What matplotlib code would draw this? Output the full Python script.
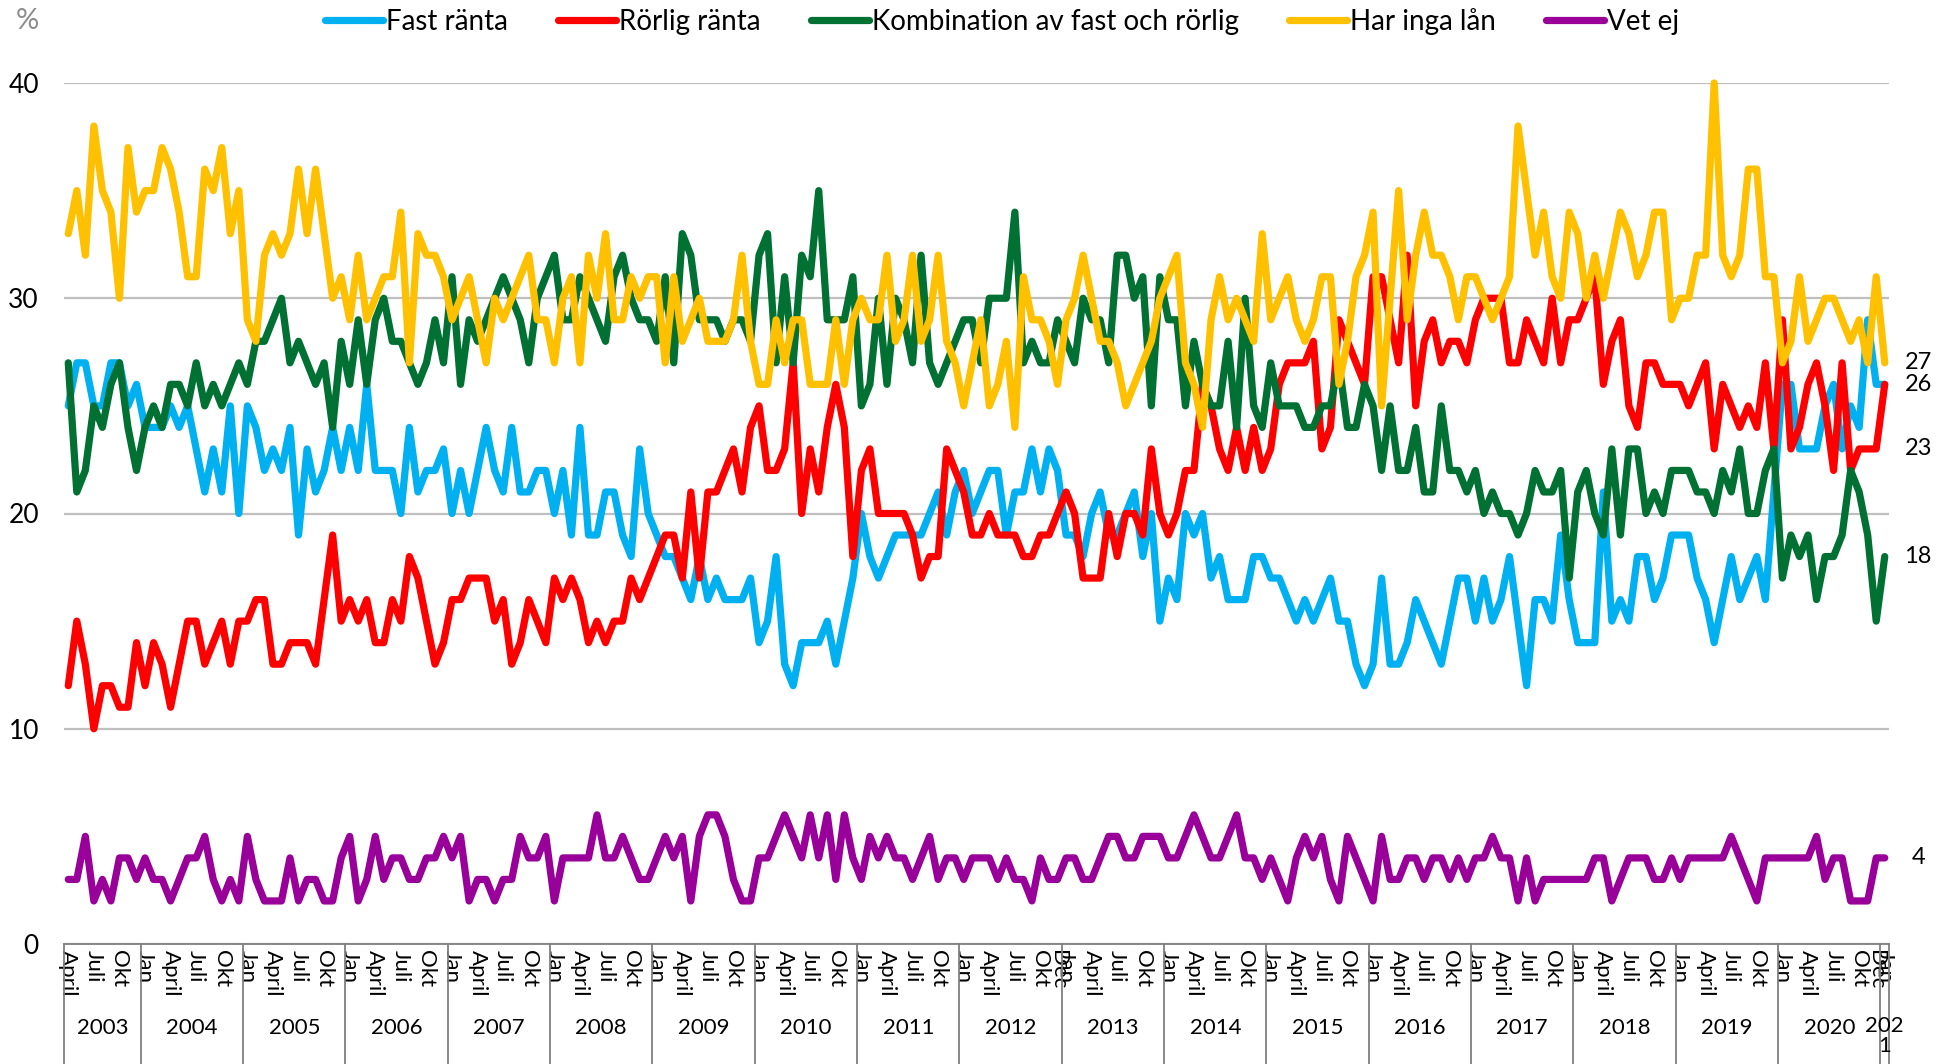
import numpy as np
import matplotlib.pyplot as plt
from matplotlib.transforms import blended_transform_factory

plt.rcParams['font.family'] = ['Lato', 'DejaVu Sans']

# monthly values (%), April 2003 - January 2021
fast = [25, 27, 27, 25, 25, 27, 27, 25, 26, 24, 24, 24, 25, 24, 25, 23, 21, 23, 21, 25, 20, 25, 24, 22, 23, 22, 24, 19, 23, 21, 22, 24,
        22, 24, 22, 26, 22, 22, 22, 20, 24, 21, 22, 22, 23, 20, 22, 20, 22, 24, 22, 21, 24, 21, 21, 22, 22, 20, 22, 19, 24, 19, 19,
        21, 21, 19, 18, 23, 20, 19, 18, 18, 17, 16, 18, 16, 17, 16, 16, 16, 17, 14, 15, 18, 13, 12, 14, 14, 14, 15, 13, 15, 17, 20,
        18, 17, 18, 19, 19, 19, 19, 20, 21, 19, 21, 22, 20, 21, 22, 22, 19, 21, 21, 23, 21, 23, 22, 19, 19, 18, 20, 21, 19, 19, 20,
        21, 18, 20, 15, 17, 16, 20, 19, 20, 17, 18, 16, 16, 16, 18, 18, 17, 17, 16, 15, 16, 15, 16, 17, 15, 15, 13, 12, 13, 17, 13,
        13, 14, 16, 15, 14, 13, 15, 17, 17, 15, 17, 15, 16, 18, 15, 12, 16, 16, 15, 19, 16, 14, 14, 14, 21, 15, 16, 15, 18,
        18, 16, 17, 19, 19, 19, 17, 16, 14, 16, 18, 16, 17, 18, 16, 21, 26, 26, 23, 23, 23, 25, 26, 23, 25, 24, 29, 26, 26]
rorlig = [12, 15, 13, 10, 12, 12, 11, 11, 14, 12, 14, 13, 11, 13, 15, 15, 13, 14, 15, 13, 15, 15, 16, 16, 13, 13, 14, 14, 14, 13, 16, 19,
          15, 16, 15, 16, 14, 14, 16, 15, 18, 17, 15, 13, 14, 16, 16, 17, 17, 17, 15, 16, 13, 14, 16, 15, 14, 17, 16, 17, 16, 14, 15,
          14, 15, 15, 17, 16, 17, 18, 19, 19, 17, 21, 17, 21, 21, 22, 23, 21, 24, 25, 22, 22, 23, 27, 20, 23, 21, 24, 26, 24, 18, 22,
          23, 20, 20, 20, 20, 19, 17, 18, 18, 23, 22, 21, 19, 19, 20, 19, 19, 19, 18, 18, 19, 19, 20, 21, 20, 17, 17, 17, 20, 18, 20,
          20, 19, 23, 20, 19, 20, 22, 22, 26, 25, 23, 22, 24, 22, 24, 22, 23, 26, 27, 27, 27, 28, 23, 24, 29, 28, 27, 26, 31, 31, 29,
          27, 32, 25, 28, 29, 27, 28, 28, 27, 29, 30, 30, 30, 27, 27, 29, 28, 27, 30, 27, 29, 29, 30, 31, 26, 28, 29, 25, 24,
          27, 27, 26, 26, 26, 25, 26, 27, 23, 26, 25, 24, 25, 24, 27, 23, 29, 23, 24, 26, 27, 25, 22, 27, 22, 23, 23, 23, 26]
kombination = [27, 21, 22, 25, 24, 26, 27, 24, 22, 24, 25, 24, 26, 26, 25, 27, 25, 26, 25, 26, 27, 26, 28, 28, 29, 30, 27, 28, 27, 26, 27, 24,
               28, 26, 29, 26, 29, 30, 28, 28, 27, 26, 27, 29, 27, 31, 26, 29, 28, 29, 30, 31, 30, 29, 27, 30, 31, 32, 29, 29, 31, 30, 29,
               28, 31, 32, 30, 29, 29, 28, 31, 27, 33, 32, 29, 29, 29, 28, 29, 29, 28, 32, 33, 27, 31, 27, 32, 31, 35, 29, 29, 29, 31, 25,
               26, 30, 26, 30, 29, 27, 32, 27, 26, 27, 28, 29, 29, 27, 30, 30, 30, 34, 27, 28, 27, 27, 29, 28, 27, 30, 29, 29, 27, 32, 32,
               30, 31, 25, 31, 29, 29, 25, 28, 26, 25, 25, 28, 24, 30, 25, 24, 27, 25, 25, 25, 24, 24, 25, 25, 27, 24, 24, 26, 25, 22, 25,
               22, 22, 24, 21, 21, 25, 22, 22, 21, 22, 20, 21, 20, 20, 19, 20, 22, 21, 21, 22, 17, 21, 22, 20, 19, 23, 19, 23, 23,
               20, 21, 20, 22, 22, 22, 21, 21, 20, 22, 21, 23, 20, 20, 22, 23, 17, 19, 18, 19, 16, 18, 18, 19, 22, 21, 19, 15, 18]
inga_lan = [33, 35, 32, 38, 35, 34, 30, 37, 34, 35, 35, 37, 36, 34, 31, 31, 36, 35, 37, 33, 35, 29, 28, 32, 33, 32, 33, 36, 33, 36, 33, 30,
            31, 29, 32, 29, 30, 31, 31, 34, 27, 33, 32, 32, 31, 29, 30, 31, 29, 27, 30, 29, 30, 31, 32, 29, 29, 27, 30, 31, 27, 32, 30,
            33, 29, 29, 31, 30, 31, 31, 27, 31, 28, 29, 30, 28, 28, 28, 29, 32, 28, 26, 26, 29, 27, 29, 29, 26, 26, 26, 29, 26, 29, 30,
            29, 29, 32, 28, 29, 32, 28, 29, 32, 28, 27, 25, 27, 29, 25, 26, 28, 24, 31, 29, 29, 28, 26, 29, 30, 32, 30, 28, 28, 27, 25,
            26, 27, 28, 30, 31, 32, 27, 26, 24, 29, 31, 29, 30, 29, 28, 33, 29, 30, 31, 29, 28, 29, 31, 31, 26, 28, 31, 32, 34, 25, 30,
            35, 29, 32, 34, 32, 32, 31, 29, 31, 31, 30, 29, 30, 31, 38, 35, 32, 34, 31, 30, 34, 33, 30, 32, 30, 32, 34, 33, 31,
            32, 34, 34, 29, 30, 30, 32, 32, 40, 32, 31, 32, 36, 36, 31, 31, 27, 28, 31, 28, 29, 30, 30, 29, 28, 29, 27, 31, 27]
vet_ej = [3, 3, 5, 2, 3, 2, 4, 4, 3, 4, 3, 3, 2, 3, 4, 4, 5, 3, 2, 3, 2, 5, 3, 2, 2, 2, 4, 2, 3, 3, 2, 2,
          4, 5, 2, 3, 5, 3, 4, 4, 3, 3, 4, 4, 5, 4, 5, 2, 3, 3, 2, 3, 3, 5, 4, 4, 5, 2, 4, 4, 4, 4, 6,
          4, 4, 5, 4, 3, 3, 4, 5, 4, 5, 2, 5, 6, 6, 5, 3, 2, 2, 4, 4, 5, 6, 5, 4, 6, 4, 6, 3, 6, 4, 3,
          5, 4, 5, 4, 4, 3, 4, 5, 3, 4, 4, 3, 4, 4, 4, 3, 4, 3, 3, 2, 4, 3, 3, 4, 4, 3, 3, 4, 5, 5, 4,
          4, 5, 5, 5, 4, 4, 5, 6, 5, 4, 4, 5, 6, 4, 4, 3, 4, 3, 2, 4, 5, 4, 5, 3, 2, 5, 4, 3, 2, 5, 3,
          3, 4, 4, 3, 4, 4, 3, 4, 3, 4, 4, 5, 4, 4, 2, 4, 2, 3, 3, 3, 3, 3, 3, 4, 4, 2, 3, 4, 4,
          4, 3, 3, 4, 3, 4, 4, 4, 4, 4, 5, 4, 3, 2, 4, 4, 4, 4, 4, 4, 5, 3, 4, 4, 2, 2, 2, 4, 4]

names = ['Fast ränta', 'Rörlig ränta', 'Kombination av fast och rörlig', 'Har inga lån', 'Vet ej']
colors = ['#00B0F0', '#FF0000', '#007033', '#FFC000', '#990099']
end_labels = [27, 26, 23, 18, 4]

start_year, start_month = 2003, 4
month_names = {1: 'Jan', 4: 'April', 7: 'Juli', 10: 'Okt'}
extra_ticks = {(2012, 12): 'Dec', (2020, 12): 'Dec'}

n = len(fast)
x = np.arange(n)
years = [start_year + (start_month - 1 + i) // 12 for i in range(n)]
months = [(start_month - 1 + i) % 12 + 1 for i in range(n)]

fig = plt.figure(figsize=(19.4, 10.64), dpi=100)
ax = fig.add_axes([64 / 1940, 1 - 944 / 1064, 1825 / 1940, 861 / 1064])

for vals, name, c in zip([fast, rorlig, kombination, inga_lan, vet_ej], names, colors):
    ax.plot(x, vals, color=c, lw=5.2, label=name, solid_joinstyle='round',
            solid_capstyle='round', clip_on=False)

ax.set_xlim(-0.5, n - 0.5)
ax.set_ylim(0, 40)
ax.set_yticks([0, 10, 20, 30, 40])
ax.grid(axis='y', color='#BFBFBF', lw=1.6)
ax.set_axisbelow(True)
for s in ['top', 'right', 'left']:
    ax.spines[s].set_visible(False)
ax.spines['bottom'].set_color('#7F7F7F')
ax.spines['bottom'].set_linewidth(1.3)
ax.tick_params(axis='y', length=0, pad=18, labelsize=19)

# month labels under the axis
tick_pos, tick_lab = [], []
for i in range(n):
    lab = month_names.get(months[i]) or extra_ticks.get((years[i], months[i]))
    if lab:
        tick_pos.append(i)
        tick_lab.append(lab)
ax.set_xticks(tick_pos)
ax.set_xticklabels(tick_lab, rotation=-90, fontsize=16, va='top', ha='center')
ax.tick_params(axis='x', length=0, pad=4)

# year row with separators
trans = blended_transform_factory(ax.transData, ax.transAxes)
bounds = [-0.5] + [i - 0.5 for i in range(1, n) if years[i] != years[i - 1]] + [n - 0.5]
for b in bounds:
    ax.plot([b, b], [0, -0.16], color='#7F7F7F', lw=1.3, transform=trans, clip_on=False)
for y in sorted(set(years)):
    idx = [i for i in range(n) if years[i] == y]
    xc = (idx[0] + idx[-1]) / 2
    if len(idx) > 1:
        ax.text(xc, -0.097, str(y), transform=trans, ha='center', va='center', fontsize=16)
    else:
        # one-month year: the label wraps like in the original
        ax.text(xc, -0.084, str(y)[:3] + '\n' + str(y)[3:], transform=trans, ha='center',
                va='top', fontsize=16, linespacing=0.95)

# end-of-series labels
for v in end_labels:
    ax.annotate(str(v), xy=(1, v), xycoords=('axes fraction', 'data'),
                xytext=(21, 0), textcoords='offset points', ha='center', va='center', fontsize=17)

fig.text(27 / 1940, 1 - 21 / 1064, '%', color='#8C8C8C', fontsize=21, ha='center', va='center')
fig.legend(loc='center', bbox_to_anchor=(0.5165, 0.980), ncol=5, frameon=False, fontsize=20,
           handlelength=2.1, handletextpad=0.1, columnspacing=1.8)

plt.savefig('out.png', dpi=100)
